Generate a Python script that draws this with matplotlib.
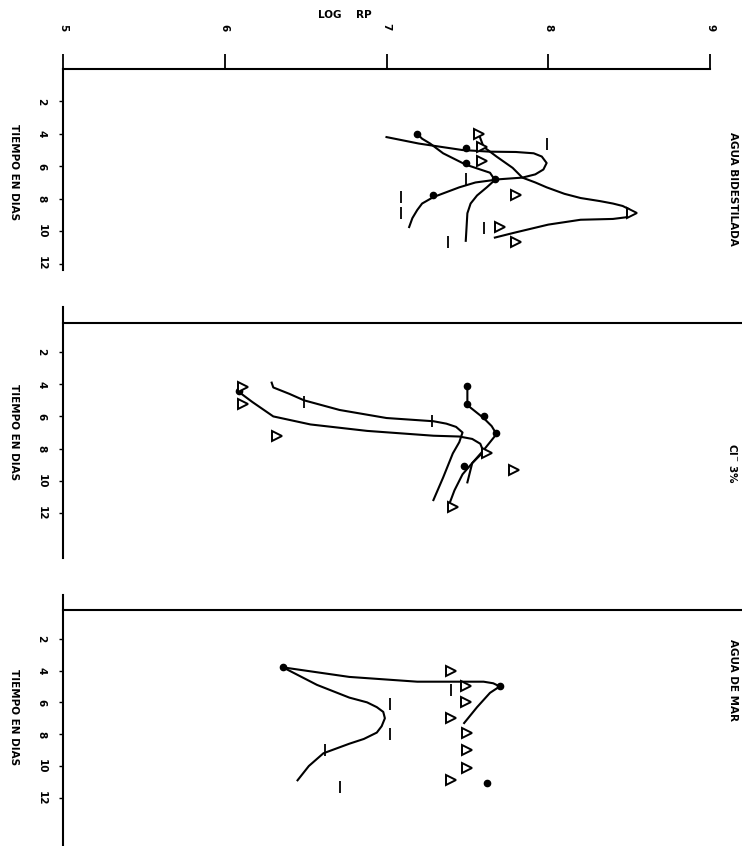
import matplotlib
matplotlib.use('Agg')
import matplotlib.pyplot as plt

# ---------------------------------------------------------------------------
# Data (x = log RP, y = time in days)
# ---------------------------------------------------------------------------
titles = ['AGUA BIDESTILADA', 'Cl$^{-}$ 3%', 'AGUA DE MAR']
rp_ticks = [5, 6, 7, 8, 9]
day_ticks = [2, 4, 6, 8, 10, 12]

# panel 1 - agua bidestilada
p1_dot_rp = [7.19, 7.49, 7.49, 7.67, 7.29]
p1_dot_t = [4.0, 4.85, 5.8, 6.8, 7.8]
p1_tri_rp = [7.57, 7.59, 7.59, 7.80, 8.52, 7.70, 7.80]
p1_tri_t = [4.0, 4.8, 5.7, 7.8, 8.9, 9.75, 10.7]
p1_bar_rp = [7.99, 7.49, 7.09, 7.09, 7.60, 7.38]
p1_bar_t = [4.6, 6.8, 7.9, 8.9, 9.8, 10.7]
p1_curves = [
    ([7.00, 7.20, 7.47, 7.64, 7.80, 7.91, 7.96, 7.99, 7.97, 7.92, 7.84, 7.70,
      7.55, 7.45, 7.29, 7.22, 7.19, 7.16, 7.14],
     [4.2, 4.6, 5.0, 5.1, 5.12, 5.2, 5.4, 5.8, 6.2, 6.5, 6.7, 6.8,
      7.0, 7.3, 7.9, 8.3, 8.7, 9.2, 9.75]),
    ([7.57, 7.60, 7.68, 7.78, 7.84, 7.92, 7.99, 8.10, 8.20, 8.32, 8.40, 8.46,
      8.50, 8.52, 8.48, 8.40, 8.20, 8.00, 7.79, 7.67],
     [4.0, 4.8, 5.4, 6.1, 6.7, 7.0, 7.3, 7.7, 7.96, 8.15, 8.3, 8.45,
      8.65, 8.9, 9.15, 9.25, 9.3, 9.6, 10.1, 10.4]),
    ([7.19, 7.22, 7.27, 7.35, 7.49, 7.64, 7.67, 7.62, 7.56, 7.52, 7.50, 7.49],
     [4.0, 4.3, 4.6, 5.2, 5.9, 6.4, 6.85, 7.3, 7.8, 8.3, 8.9, 10.6]),
]

# panel 2 - Cl- 3%
p2_dot_rp = [6.09, 7.50, 7.50, 7.60, 7.68, 7.48]
p2_dot_t = [4.45, 4.1, 5.2, 6.0, 7.0, 9.1]
p2_tri_rp = [6.11, 6.11, 6.32, 7.62, 7.79, 7.41]
p2_tri_t = [4.2, 5.2, 7.2, 8.3, 9.3, 11.6]
p2_bar_rp = [6.49, 7.28]
p2_bar_t = [5.1, 6.3]
p2_curves = [
    ([6.29, 6.30, 6.40, 6.49, 6.71, 7.00, 7.29, 7.37, 7.43, 7.47, 7.45, 7.41, 7.35, 7.29],
     [3.9, 4.2, 4.6, 5.0, 5.6, 6.1, 6.3, 6.45, 6.65, 7.0, 7.6, 8.3, 9.8, 11.2]),
    ([6.09, 6.17, 6.30, 6.53, 6.88, 7.29, 7.45, 7.53, 7.58, 7.60, 7.53, 7.47, 7.42, 7.39],
     [4.5, 5.1, 6.0, 6.5, 6.9, 7.2, 7.25, 7.4, 7.7, 8.2, 8.9, 9.6, 10.6, 11.4]),
    ([7.50, 7.50, 7.55, 7.60, 7.65, 7.68, 7.60, 7.53, 7.50],
     [4.2, 5.3, 5.7, 6.1, 6.6, 7.1, 8.1, 8.9, 10.1]),
]

# panel 3 - agua de mar
p3_dot_rp = [6.36, 7.70, 7.62]
p3_dot_t = [3.8, 5.0, 11.1]
p3_tri_rp = [7.40, 7.49, 7.49, 7.40, 7.50, 7.50, 7.50, 7.40]
p3_tri_t = [4.0, 5.0, 6.0, 7.0, 7.9, 9.0, 10.1, 10.9]
p3_bar_rp = [7.40, 7.02, 7.02, 6.62, 6.71]
p3_bar_t = [5.2, 6.1, 8.0, 9.0, 11.3]
p3_curves = [
    ([6.36, 6.77, 7.19, 7.60, 7.66, 7.70, 7.64, 7.56, 7.48],
     [3.8, 4.4, 4.7, 4.7, 4.8, 5.0, 5.4, 6.3, 7.3]),
    ([6.36, 6.57, 6.77, 6.88, 6.94, 6.98, 6.99, 6.97, 6.94, 6.86, 6.77, 6.61, 6.52, 6.45],
     [3.8, 4.9, 5.7, 6.0, 6.3, 6.6, 7.0, 7.5, 7.9, 8.3, 8.6, 9.2, 10.0, 10.9]),
]

panels = [
    (p1_dot_rp, p1_dot_t, p1_tri_rp, p1_tri_t, p1_bar_rp, p1_bar_t, p1_curves),
    (p2_dot_rp, p2_dot_t, p2_tri_rp, p2_tri_t, p2_bar_rp, p2_bar_t, p2_curves),
    (p3_dot_rp, p3_dot_t, p3_tri_rp, p3_tri_t, p3_bar_rp, p3_bar_t, p3_curves),
]

# ---------------------------------------------------------------------------
# Layout (pixel geometry of the rotated scan)
# ---------------------------------------------------------------------------
W, H = 742, 846
x_left = 63
x_max = 5 + (W - x_left) / 161.75
# (top px, bottom px, day at top, day at bottom, day of horizontal line)
geom = [
    (69, 270, 0.0, 12.4, None),
    (307, 558, -0.8, 14.8, 0.19),
    (595, 846, -0.75, 15.03, 0.19),
]
label_y = [172, 432, 717]
title_y = [189, 463, 680]

fig = plt.figure(figsize=(W / 100, H / 100), dpi=100)
font = dict(family='DejaVu Sans', weight='bold')

for i, (g, data) in enumerate(zip(geom, panels)):
    top, bottom, d_top, d_bot, hline = g
    dot_rp, dot_t, tri_rp, tri_t, bar_rp, bar_t, curves = data
    ax = fig.add_axes([x_left / W, 1 - bottom / H, (W - x_left) / W, (bottom - top) / H])
    ax.set_xlim(5, x_max)
    ax.set_ylim(d_bot, d_top)
    for s in ['right', 'bottom']:
        ax.spines[s].set_visible(False)
    ax.spines['left'].set_linewidth(1.5)

    if i == 0:
        ax.spines['top'].set_bounds(5, 9)
        ax.spines['top'].set_linewidth(1.5)
        ax.xaxis.tick_top()
        ax.set_xticks(rp_ticks)
        ax.set_xticklabels([str(v) for v in rp_ticks], rotation=-90, **font, fontsize=7.5)
        ax.tick_params(axis='x', direction='out', length=10.5, width=1.3, pad=17)
    else:
        ax.spines['top'].set_visible(False)
        ax.set_xticks([])
        ax.axhline(hline, color='black', lw=1.5, clip_on=False)

    ax.set_yticks(day_ticks)
    ax.set_yticklabels([str(v) for v in day_ticks], rotation=-90, **font, fontsize=7.5,
                       va='center')
    ax.tick_params(axis='y', direction='out', length=3, width=1.0, pad=9)

    for crp, ct in curves:
        ax.plot(crp, ct, color='black', lw=1.5, clip_on=False)
    ax.plot(dot_rp, dot_t, 'o', color='black', ms=4.5, clip_on=False)
    ax.plot(tri_rp, tri_t, '>', mfc='white', mec='black', mew=1.4, ms=7, clip_on=False)
    ax.plot(bar_rp, bar_t, '|', color='black', mew=1.3, ms=8, clip_on=False)

    fig.text(14 / W, 1 - label_y[i] / H, 'TIEMPO EN DIAS', rotation=-90,
             ha='center', va='center', fontsize=7.5, **font)
    fig.text(733 / W, 1 - title_y[i] / H, titles[i], rotation=-90,
             ha='center', va='center', fontsize=7.5, **font)

fig.text(345 / W, 1 - 15 / H, 'LOG    RP', ha='center', va='center', fontsize=7.5, **font)

fig.savefig('out.png', dpi=100, facecolor='white')
